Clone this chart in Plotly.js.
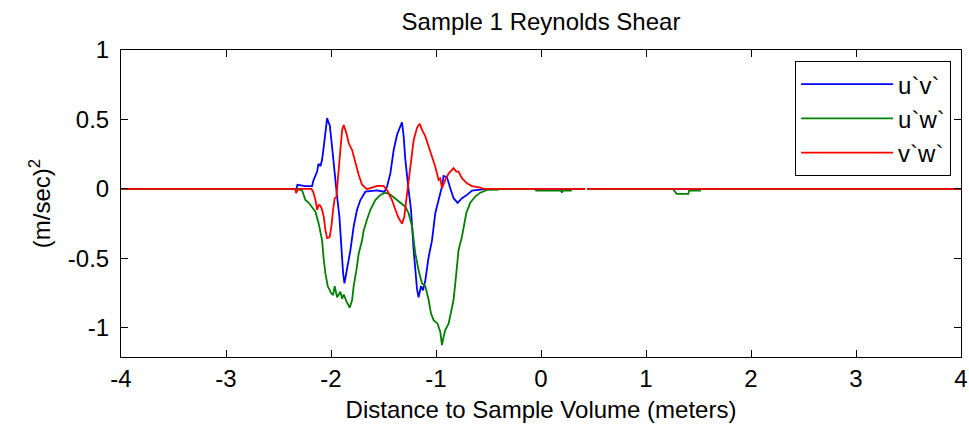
<!DOCTYPE html>
<html>
<head>
<meta charset="utf-8">
<script src="https://cdn.plot.ly/plotly-3.0.1.min.js"></script>
<style>html,body{margin:0;padding:0;background:#fff;}#chart{width:969px;height:427px;}</style>
</head>
<body>
<div id="chart"></div>
<script>
// u'v' (blue)
const uv_x = [-4, -2.329, -2.32, -2.244, -2.18, -2.168, -2.132, -2.12, -2.10, -2.085, -2.069, -2.053, -2.037, -2.025, -2.012, -1.99, -1.965, -1.942, -1.92, -1.904, -1.885, -1.872, -1.858, -1.841, -1.815, -1.784, -1.752, -1.72, -1.673, -1.561, -1.50, -1.482, -1.466, -1.435, -1.403, -1.371, -1.34, -1.324, -1.308, -1.292, -1.261, -1.238, -1.213, -1.197, -1.181, -1.166, -1.143, -1.124, -1.102, -1.070, -1.038, -1.007, -0.975, -0.943, -0.928, -0.896, -0.864, -0.833, -0.794, -0.753, -0.705, -0.657, -0.578, -0.53, 0.42, 0.43, 0.44, 4];
const uv_y = [0, 0, 0.03, 0.02, 0.02, 0.06, 0.125, 0.18, 0.165, 0.21, 0.305, 0.425, 0.51, 0.48, 0.46, 0.305, 0.09, -0.055, -0.2, -0.39, -0.605, -0.68, -0.62, -0.56, -0.44, -0.27, -0.15, -0.08, -0.02, -0.01, -0.02, -0.01, 0.017, 0.11, 0.28, 0.39, 0.46, 0.48, 0.38, 0.21, -0.007, -0.15, -0.44, -0.61, -0.72, -0.78, -0.70, -0.73, -0.66, -0.49, -0.37, -0.175, -0.08, 0.017, 0.094, 0.085, 0.005, -0.067, -0.10, -0.067, -0.043, -0.012, -0.005, 0, 0, null, 0, 0];

// u'w' (green)
const uw_x = [-4, -2.323, -2.275, -2.260, -2.244, -2.212, -2.180, -2.148, -2.117, -2.085, -2.069, -2.053, -2.031, -1.999, -1.980, -1.965, -1.942, -1.911, -1.894, -1.879, -1.853, -1.822, -1.799, -1.784, -1.758, -1.736, -1.704, -1.689, -1.657, -1.625, -1.578, -1.530, -1.482, -1.435, -1.371, -1.308, -1.292, -1.261, -1.228, -1.197, -1.166, -1.133, -1.102, -1.070, -1.048, -1.023, -0.985, -0.959, -0.943, -0.928, -0.912, -0.880, -0.857, -0.833, -0.807, -0.785, -0.753, -0.712, -0.674, -0.626, -0.578, -0.515, -0.404, -0.39, -0.05, -0.046, 0.19, 0.199, 0.208, 0.285, 0.29, 0.42, 0.43, 0.44, 1.255, 1.293, 1.403, 1.41, 1.515, 1.52, 4];
const uw_y = [0, 0, -0.012, -0.043, -0.08, -0.10, -0.128, -0.164, -0.25, -0.37, -0.51, -0.61, -0.70, -0.75, -0.765, -0.70, -0.78, -0.74, -0.79, -0.76, -0.81, -0.855, -0.80, -0.70, -0.585, -0.465, -0.37, -0.30, -0.22, -0.15, -0.08, -0.043, -0.027, -0.04, -0.08, -0.115, -0.128, -0.175, -0.27, -0.465, -0.585, -0.68, -0.70, -0.80, -0.896, -0.945, -0.97, -1.03, -1.125, -1.065, -1.017, -0.97, -0.896, -0.80, -0.61, -0.44, -0.344, -0.175, -0.10, -0.055, -0.027, -0.007, -0.005, 0, 0, -0.012, -0.012, -0.027, -0.012, -0.012, 0, 0, null, 0, 0, -0.036, -0.036, -0.012, -0.012, 0, 0];

// v'w' (red)
const vw_x = [-4, -2.341, -2.332, -2.313, -2.187, -2.170, -2.148, -2.132, -2.117, -2.101, -2.085, -2.069, -2.053, -2.037, -2.012, -1.996, -1.980, -1.965, -1.949, -1.927, -1.911, -1.894, -1.879, -1.853, -1.832, -1.799, -1.768, -1.736, -1.704, -1.657, -1.561, -1.499, -1.466, -1.419, -1.387, -1.356, -1.324, -1.302, -1.283, -1.261, -1.238, -1.213, -1.181, -1.156, -1.133, -1.102, -1.070, -1.038, -1.007, -0.975, -0.959, -0.943, -0.912, -0.880, -0.833, -0.807, -0.785, -0.753, -0.705, -0.657, -0.578, -0.55, 0.42, 0.43, 0.44, 4];
const vw_y = [0, 0, -0.03, 0, 0, -0.02, -0.08, -0.15, -0.115, -0.12, -0.15, -0.2, -0.3, -0.355, -0.345, -0.27, -0.15, -0.067, -0.06, 0.11, 0.28, 0.425, 0.46, 0.40, 0.33, 0.28, 0.185, 0.10, 0.03, -0.002, 0.022, 0.022, -0.01, -0.08, -0.15, -0.21, -0.25, -0.2, -0.08, 0.065, 0.185, 0.35, 0.44, 0.47, 0.425, 0.38, 0.305, 0.235, 0.16, 0.065, 0.075, 0.005, 0.065, 0.11, 0.15, 0.125, 0.125, 0.077, 0.04, 0.02, 0.01, 0, 0, null, 0, 0];

const seriesNames = ["u`v`", "u`w`", "v`w`"];
const xTickVals = [-4, -3, -2, -1, 0, 1, 2, 3, 4];
const xTickText = ["-4", "-3", "-2", "-1", "0", "1", "2", "3", "4"];
const yTickVals = [-1, -0.5, 0, 0.5, 1];
const yTickText = ["-1", "-0.5", "0", "0.5", "1"];

const FONT = "Liberation Sans, Arial, sans-serif";
const lw = 1.8;
const traces = [
  {x: uv_x, y: uv_y, name: seriesNames[0], mode: "lines", line: {color: "#0000ff", width: lw}, connectgaps: false},
  {x: uw_x, y: uw_y, name: seriesNames[1], mode: "lines", line: {color: "#008000", width: lw}, connectgaps: false},
  {x: vw_x, y: vw_y, name: seriesNames[2], mode: "lines", line: {color: "#ff0000", width: lw}, connectgaps: false}
];

const axisCommon = {
  showline: true, linecolor: "#000", linewidth: 1, mirror: "ticks",
  ticks: "inside", ticklen: 7, tickcolor: "#000", tickwidth: 1,
  showgrid: false, zeroline: false,
  tickfont: {family: FONT, size: 24, color: "#000"}
};

const layout = {
  width: 969, height: 427,
  margin: {l: 120.5, r: 8, t: 50, b: 70},
  paper_bgcolor: "#fff", plot_bgcolor: "#fff",
  font: {family: FONT, size: 24, color: "#000"},
  title: {text: "Sample 1 Reynolds Shear", font: {family: FONT, size: 24, color: "#000"},
          x: 0.5, xref: "paper", y: 1 - 22/427, yref: "container", yanchor: "middle"},
  xaxis: Object.assign({}, axisCommon, {
    range: [-4, 4], tickvals: xTickVals, ticktext: xTickText,
    title: {text: "Distance to Sample Volume (meters)", font: {family: FONT, size: 24, color: "#000"}, standoff: 10}
  }),
  yaxis: Object.assign({}, axisCommon, {
    range: [-1.21, 1], tickvals: yTickVals, ticktext: yTickText, ticklabelstandoff: 6,
    title: {text: "(m/sec)<sup>2</sup>", font: {family: FONT, size: 24, color: "#000"}, standoff: 10}
  }),
  showlegend: true,
  legend: {
    x: 0.8025, y: 0.964, xanchor: "left", yanchor: "top",
    bgcolor: "#fff", bordercolor: "#000", borderwidth: 1,
    font: {family: FONT, size: 24, color: "#000"},
    itemwidth: 92
  }
};

Plotly.newPlot("chart", traces, layout, {displayModeBar: false, staticPlot: true});
</script>
</body>
</html>
